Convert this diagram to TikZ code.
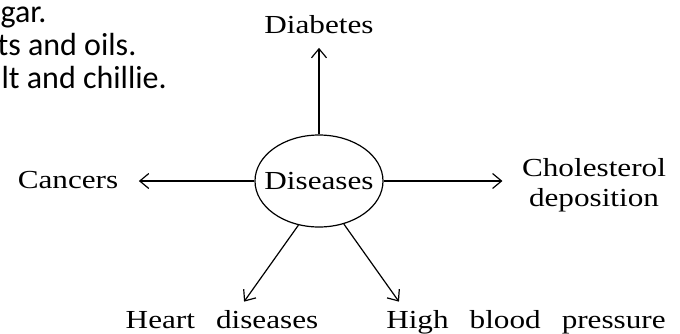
\documentclass[tikz,border=0pt]{standalone}
\usepackage{fontspec}
\setmainfont{Liberation Serif}
\newfontfamily\labelfont{Liberation Serif}[FakeStretch=1.2]
\newfontfamily\notefont{Carlito}
\usetikzlibrary{shapes.geometric, arrows.meta}
\newcommand{\wordgap}{\hspace{21pt}}

\begin{document}
\begin{tikzpicture}[x=1pt, y=-1pt, line width=1.2pt,
    lbl/.style={font=\labelfont\fontsize{26}{30}\selectfont, inner sep=2pt},
    note/.style={font=\notefont\fontsize{32}{33}\selectfont, inner sep=0pt, anchor=base west},
    arr/.style={-{Straight Barb[length=9pt,width=15pt]}}]
    \useasboundingbox (0,0) rectangle (680,333);
    % cut-off text at the top left
    \node (note1) [note] at (0,22) {gar.};
    \node (note2) [note] at (-3,55) {ts and oils.};
    \node (note3) [note] at (1,88) {lt and chillie.};
    % Diseases and their causes
    \node (dis) [draw, ellipse, minimum width=128pt, minimum height=92pt, inner sep=0pt, lbl] at (319,181) {\makebox[0pt]{Diseases}};
    \node (diab) [lbl, anchor=base] at (319,33) {Diabetes};
    \node (canc) [lbl, anchor=base] at (68,188) {Cancers};
    \node (chol) [lbl, align=center] at (594,185) {Cholesterol\\deposition};
    \node (heart) [lbl, anchor=base] at (222,328) {Heart\wordgap diseases};
    \node (hbp) [lbl, anchor=base] at (526,328) {High\wordgap blood\wordgap pressure};
    \draw[arr, shorten >=12pt] (dis.north) -- (diab.south);
    \draw[arr, shorten >=18pt] (dis.west) -- (dis.west -| canc.east);
    \draw[arr, shorten >=17pt] (dis.east) -- (dis.east -| chol.west);
    \draw[arr, shorten >=7pt] (dis.245) -- ([xshift=18pt]heart.north);
    \draw[arr, shorten >=7pt] (dis.300) -- ([xshift=-123pt]hbp.north);
\end{tikzpicture}
\end{document}
